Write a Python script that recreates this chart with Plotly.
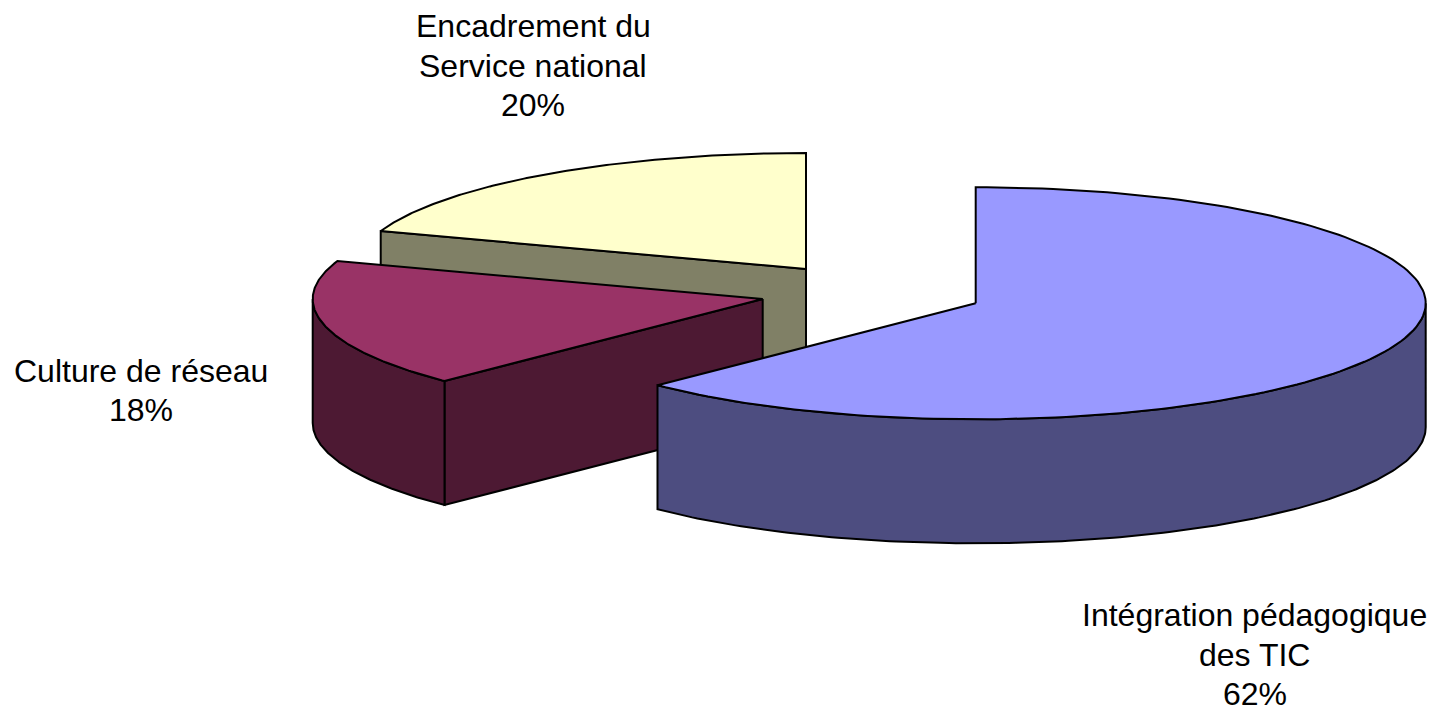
import numpy as np
import plotly.graph_objects as go

# Data
categories = ["Intégration pédagogique\ndes TIC", "Culture de réseau", "Encadrement du\nService national"]
values = [62.5, 17.8, 19.7]

# Styles
top_colors = ["#9999FF", "#993366", "#FFFFCC"]
side_colors = ["#4D4D80", "#4D1933", "#808066"]

# Projection of the pie (pixel-space canvas)
W, H = 1435, 710
RX, RY, DEPTH = 450, 116, 124
apexes = [(975.7, 303.3), (762.7, 299), (806, 269)]
label_pos = [(1254.5, 615), (141, 370.5), (533, 26)]
LINE_STEP = 39.5
FONT = dict(family="Liberation Sans, Arial, sans-serif", size=32, color="#000000")
OUT = dict(color="#000000", width=2)

fracs = np.array(values) / sum(values)
edges = np.concatenate([[0], np.cumsum(fracs)]) * 2 * np.pi


def rim(c, a, b, n=160):
    t = np.linspace(a, b, n)
    return c[0] + RX * np.sin(t), c[1] - RY * np.cos(t)


def poly(fig, x, y, color):
    fig.add_trace(go.Scatter(x=np.append(x, x[0]), y=np.append(y, y[0]), mode="lines",
                             fill="toself", fillcolor=color, line=OUT,
                             hoverinfo="skip", showlegend=False))


fig = go.Figure()

# painted back to front: slices 2, 1, 0
for i in [2, 1, 0]:
    c, a, b = apexes[i], edges[i], edges[i + 1]
    # flat cut face on the slice's leading edge, when it looks toward the viewer
    ex, ey = rim(c, a, a, 1)
    if i != 0:
        x = np.array([c[0], ex[0], ex[0], c[0]])
        y = np.array([c[1], ey[0], ey[0] + DEPTH, c[1] + DEPTH])
        poly(fig, x, y, side_colors[i])
    # curved outer wall: only the front half (pi/2 .. 3pi/2) is visible
    lo, hi = max(a, np.pi / 2), min(b, 3 * np.pi / 2)
    if hi > lo:
        xw, yw = rim(c, lo, hi)
        poly(fig, np.concatenate([xw, xw[::-1]]), np.concatenate([yw, yw[::-1] + DEPTH]), side_colors[i])
    # top face
    xt, yt = rim(c, a, b)
    poly(fig, np.concatenate([[c[0]], xt]), np.concatenate([[c[1]], yt]), top_colors[i])

# labels, one annotation per line to keep the original leading
for cat, v, (lx, ly) in zip(categories, values, label_pos):
    lines = cat.split("\n") + [f"{round(v)}%"]
    for k, line in enumerate(lines):
        fig.add_annotation(x=lx, y=ly + k * LINE_STEP, text=line, showarrow=False,
                           xanchor="center", yanchor="middle", font=FONT)

fig.update_layout(width=W, height=H, margin=dict(l=0, r=0, t=0, b=0),
                  paper_bgcolor="#FFFFFF", plot_bgcolor="#FFFFFF", showlegend=False,
                  xaxis=dict(range=[0, W], visible=False, fixedrange=True),
                  yaxis=dict(range=[H, 0], visible=False, fixedrange=True))

fig.write_html("out.html", config={"displayModeBar": False},
               post_script="document.body.style.margin='0';")
